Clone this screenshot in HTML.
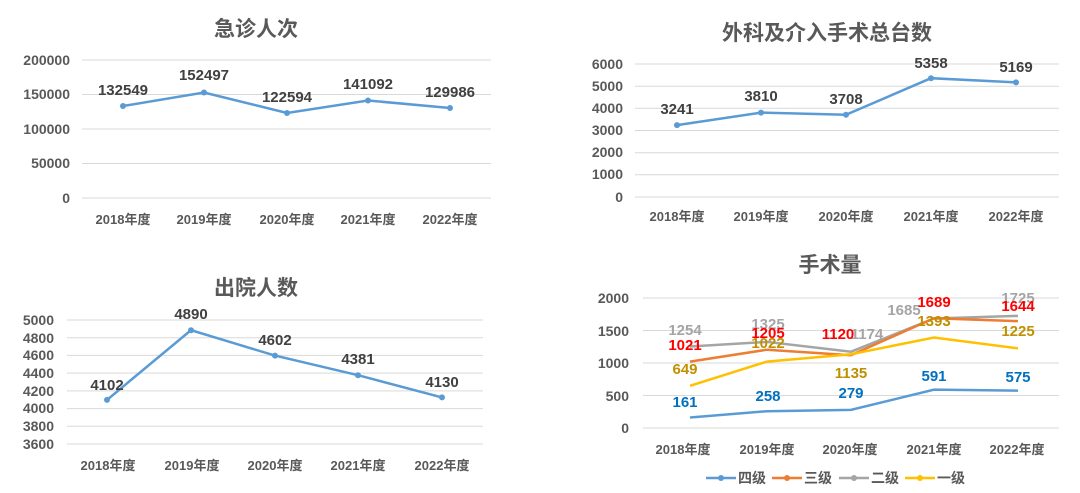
<!DOCTYPE html><html><head><meta charset="utf-8"><style>body{margin:0;background:#fff}svg{display:block}text{font-family:"Liberation Sans","Noto Sans CJK SC",sans-serif;font-weight:bold}</style></head><body>
<svg width="1080" height="493" viewBox="0 0 1080 493">
<g fill="#595959" font-size="13">
<!-- chart1 -->
<text x="256" y="36" font-size="21" text-anchor="middle">急诊人次</text>
<g stroke="#d9d9d9" stroke-width="1"><line x1="82" x2="491" y1="60" y2="60"/><line x1="82" x2="491" y1="94.5" y2="94.5"/><line x1="82" x2="491" y1="129" y2="129"/><line x1="82" x2="491" y1="163.5" y2="163.5"/><line x1="82" x2="491" y1="198" y2="198"/></g>
<g text-anchor="end" font-size="14"><text x="70" y="65">200000</text><text x="70" y="99">150000</text><text x="70" y="134">100000</text><text x="70" y="168">50000</text><text x="70" y="203">0</text></g>
<g text-anchor="middle"><text x="123" y="224">2018年度</text><text x="204" y="224">2019年度</text><text x="287" y="224">2020年度</text><text x="368" y="224">2021年度</text><text x="450" y="224">2022年度</text></g>
<polyline fill="none" stroke="#5b9bd5" stroke-width="2.5" points="123,106 204,92.5 287,113 368,100.5 450,108"/>
<g fill="#5b9bd5"><circle cx="123" cy="106" r="3"/><circle cx="204" cy="92.5" r="3"/><circle cx="287" cy="113" r="3"/><circle cx="368" cy="100.5" r="3"/><circle cx="450" cy="108" r="3"/></g>
<g text-anchor="middle" fill="#404040" font-size="15"><text x="123" y="95">132549</text><text x="204" y="80">152497</text><text x="287" y="102">122594</text><text x="368" y="89">141092</text><text x="450" y="97">129986</text></g>
<!-- chart2 -->
<text x="827" y="40" font-size="21" text-anchor="middle">外科及介入手术总台数</text>
<g stroke="#d9d9d9"><line x1="635" x2="1059" y1="64" y2="64"/><line x1="635" x2="1059" y1="86.2" y2="86.2"/><line x1="635" x2="1059" y1="108.3" y2="108.3"/><line x1="635" x2="1059" y1="130.5" y2="130.5"/><line x1="635" x2="1059" y1="152.7" y2="152.7"/><line x1="635" x2="1059" y1="174.8" y2="174.8"/><line x1="635" x2="1059" y1="197" y2="197"/></g>
<g text-anchor="end" font-size="14"><text x="623" y="69">6000</text><text x="623" y="91">5000</text><text x="623" y="113">4000</text><text x="623" y="135">3000</text><text x="623" y="157">2000</text><text x="623" y="179">1000</text><text x="623" y="202">0</text></g>
<g text-anchor="middle"><text x="677" y="221">2018年度</text><text x="761" y="221">2019年度</text><text x="846" y="221">2020年度</text><text x="931" y="221">2021年度</text><text x="1016" y="221">2022年度</text></g>
<polyline fill="none" stroke="#5b9bd5" stroke-width="2.5" points="677,125.1 761,112.6 846,114.8 931,78.2 1016,82.4"/>
<g fill="#5b9bd5"><circle cx="677" cy="125.1" r="3"/><circle cx="761" cy="112.6" r="3"/><circle cx="846" cy="114.8" r="3"/><circle cx="931" cy="78.2" r="3"/><circle cx="1016" cy="82.4" r="3"/></g>
<g text-anchor="middle" fill="#404040" font-size="15"><text x="677" y="114">3241</text><text x="761" y="101">3810</text><text x="846" y="104">3708</text><text x="931" y="68">5358</text><text x="1016" y="72">5169</text></g>
<!-- chart3 -->
<text x="256" y="295" font-size="21" text-anchor="middle">出院人数</text>
<g stroke="#d9d9d9"><line x1="67" x2="483" y1="320" y2="320"/><line x1="67" x2="483" y1="337.7" y2="337.7"/><line x1="67" x2="483" y1="355.4" y2="355.4"/><line x1="67" x2="483" y1="373.1" y2="373.1"/><line x1="67" x2="483" y1="390.9" y2="390.9"/><line x1="67" x2="483" y1="408.6" y2="408.6"/><line x1="67" x2="483" y1="426.3" y2="426.3"/><line x1="67" x2="483" y1="444" y2="444"/></g>
<g text-anchor="end" font-size="14"><text x="54" y="325">5000</text><text x="54" y="343">4800</text><text x="54" y="360">4600</text><text x="54" y="378">4400</text><text x="54" y="396">4200</text><text x="54" y="413">4000</text><text x="54" y="431">3800</text><text x="54" y="449">3600</text></g>
<g text-anchor="middle"><text x="108" y="470">2018年度</text><text x="192" y="470">2019年度</text><text x="275" y="470">2020年度</text><text x="358" y="470">2021年度</text><text x="442" y="470">2022年度</text></g>
<polyline fill="none" stroke="#5b9bd5" stroke-width="2.5" points="107,399.9 191,330.2 275,355.6 358,375.2 442,397.4"/>
<g fill="#5b9bd5"><circle cx="107" cy="399.9" r="3"/><circle cx="191" cy="330.2" r="3"/><circle cx="275" cy="355.6" r="3"/><circle cx="358" cy="375.2" r="3"/><circle cx="442" cy="397.4" r="3"/></g>
<g text-anchor="middle" fill="#404040" font-size="15"><text x="107" y="390">4102</text><text x="191" y="319">4890</text><text x="275" y="345">4602</text><text x="358" y="364">4381</text><text x="442" y="387">4130</text></g>
<!-- chart4 -->
<text x="830" y="272" font-size="21" text-anchor="middle">手术量</text>
<g stroke="#d9d9d9"><line x1="643" x2="1059" y1="298" y2="298"/><line x1="643" x2="1059" y1="330.5" y2="330.5"/><line x1="643" x2="1059" y1="363" y2="363"/><line x1="643" x2="1059" y1="395.5" y2="395.5"/><line x1="643" x2="1059" y1="428" y2="428"/></g>
<g text-anchor="end" font-size="14"><text x="629" y="303">2000</text><text x="629" y="336">1500</text><text x="629" y="368">1000</text><text x="629" y="401">500</text><text x="629" y="433">0</text></g>
<g text-anchor="middle"><text x="683" y="454">2018年度</text><text x="767" y="454">2019年度</text><text x="850" y="454">2020年度</text><text x="934" y="454">2021年度</text><text x="1017" y="454">2022年度</text></g>
<polyline fill="none" stroke="#a5a5a5" stroke-width="2.5" points="690,346.5 767,341.9 851,351.7 934,318.5 1018,315.9"/>
<polyline fill="none" stroke="#ed7d31" stroke-width="2.5" points="690,361.6 767,349.7 851,355.2 934,318.2 1018,321.1"/>
<polyline fill="none" stroke="#ffc000" stroke-width="2.5" points="690,385.8 767,361.6 851,354.2 934,337.5 1018,348.4"/>
<polyline fill="none" stroke="#5b9bd5" stroke-width="2.5" points="690,417.5 767,411.2 851,409.9 934,389.6 1018,390.6"/>
<g font-size="15" text-anchor="middle">
<g fill="#a5a5a5"><text x="685" y="335">1254</text><text x="768" y="329">1325</text><text x="867" y="339">1174</text><text x="904" y="315">1685</text><text x="1018" y="303">1725</text></g>
<g fill="#ff0000"><text x="685" y="350">1021</text><text x="768" y="338">1205</text><text x="838" y="339">1120</text><text x="934" y="307">1689</text><text x="1018" y="311">1644</text></g>
<g fill="#bf9000"><text x="685" y="374">649</text><text x="768" y="348">1022</text><text x="851" y="378">1135</text><text x="934" y="326">1393</text><text x="1018" y="336">1225</text></g>
<g fill="#0070c0"><text x="685" y="407">161</text><text x="768" y="401">258</text><text x="851" y="398">279</text><text x="934" y="381">591</text><text x="1018" y="382">575</text></g>
</g>
<g font-size="14">
<line x1="706" x2="736" y1="478" y2="478" stroke="#5b9bd5" stroke-width="2.5"/><circle cx="721" cy="478" r="3" fill="#5b9bd5"/><text x="738" y="483">四级</text>
<line x1="772" x2="802" y1="478" y2="478" stroke="#ed7d31" stroke-width="2.5"/><circle cx="787" cy="478" r="3" fill="#ed7d31"/><text x="804" y="483">三级</text>
<line x1="839" x2="869" y1="478" y2="478" stroke="#a5a5a5" stroke-width="2.5"/><circle cx="854" cy="478" r="3" fill="#a5a5a5"/><text x="871" y="483">二级</text>
<line x1="905" x2="935" y1="478" y2="478" stroke="#ffc000" stroke-width="2.5"/><circle cx="920" cy="478" r="3" fill="#ffc000"/><text x="937" y="483">一级</text>
</g>
</g>
</svg></body></html>
